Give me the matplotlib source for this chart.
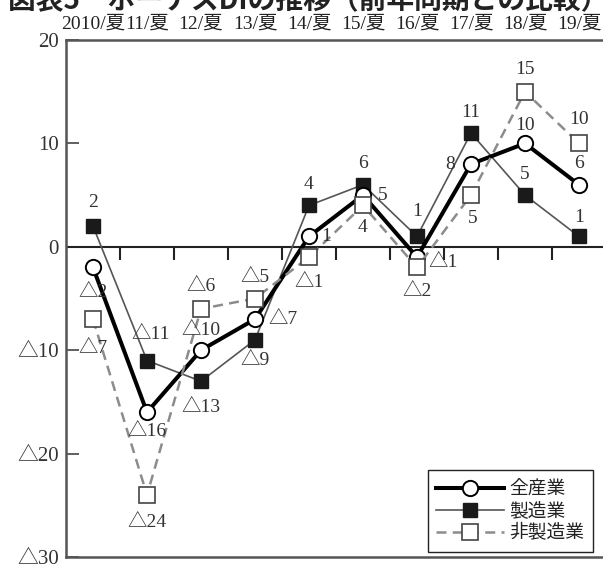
import matplotlib
matplotlib.use('Agg')
from matplotlib import pyplot as plt

# data (△ = minus)
periods = ['2010/夏', '11/夏', '12/夏', '13/夏', '14/夏', '15/夏', '16/夏', '17/夏', '18/夏', '19/夏']
all_ind = [-2, -16, -10, -7, 1, 5, -1, 8, 10, 6]
mfg = [2, -11, -13, -9, 4, 6, 1, 11, 5, 1]
non_mfg = [-7, -24, -6, -5, -1, 4, -2, 5, 15, 10]
y_ticks = [20, 10, 0, -10, -20, -30]

# label offsets in points (dx, dy) for each point
off_all = [(0, -18), (0, -14), (0, 14), (20, 0), (12, 0), (14, 0), (19, -4), (-15, 0), (0, 13), (0, 15)]
off_mfg = [(0, 17), (3, 19), (0, -19), (0, -15), (0, 15), (0, 15), (0, 18), (0, 15), (0, 15), (0, 14)]
off_non = [(0, -21), (0, -20), (0, 16), (0, 15), (0, -18), (0, -16), (0, -17), (1, -17), (0, 16), (0, 17)]

SERIF = ['Liberation Serif', 'Noto Sans CJK JP']


def fmt(v):
    return '△' + str(abs(v)) if v < 0 else str(v)


fig = plt.figure(figsize=(6.03, 5.64), dpi=100)
ax = fig.add_axes([66 / 603, 1 - 557 / 564, 540 / 603, 517 / 564])

x = list(range(len(periods)))

ax.plot(x, mfg, color='#555555', lw=1.2, marker='s', ms=9.5,
        mfc='#1a1a1a', mec='#1a1a1a', zorder=3, label='製造業')
ax.plot(x, all_ind, color='black', lw=2.9, marker='o', ms=11,
        mfc='white', mec='black', mew=1.4, zorder=4, label='全産業')
ax.plot(x, non_mfg, color='#8c8c8c', lw=1.8, ls=(0, (4, 2.5)), marker='s', ms=11.5,
        mfc='white', mec='#444444', mew=1.2, zorder=5, label='非製造業')

for vals, offs in [(all_ind, off_all), (mfg, off_mfg), (non_mfg, off_non)]:
    for i, v in enumerate(vals):
        ax.annotate(fmt(v), (i, v), xytext=offs[i], textcoords='offset points',
                    ha='center', va='center', fontsize=14, color='#333333',
                    family=SERIF, zorder=6)

ax.set_xlim(-0.5, 9.5)
ax.set_ylim(-30, 20)

# zero line with downward ticks between periods
ax.axhline(0, color='#222222', lw=1.5, zorder=2)
ax.vlines([i + 0.5 for i in range(9)], -1.25, 0, color='#222222', lw=1.5, zorder=2)

ax.set_yticks(y_ticks)
ax.set_yticklabels([fmt(v) for v in y_ticks], family=SERIF, fontsize=15, color='#333333')
ax.tick_params(axis='y', direction='in', length=9.5, width=1.2, color='#444444', pad=5)

ax.set_xticks(x)
ax.set_xticklabels(periods, family=SERIF, fontsize=14, color='#222222')
ax.xaxis.tick_top()
ax.tick_params(axis='x', length=0, pad=5)

for s in ['left', 'top', 'bottom']:
    ax.spines[s].set_color('#555555')
    ax.spines[s].set_linewidth(1.8)
ax.spines['right'].set_visible(False)

handles, labels = ax.get_legend_handles_labels()
order = [1, 0, 2]
leg = ax.legend([handles[i] for i in order], [labels[i] for i in order],
                loc='lower right', bbox_to_anchor=(593 / 603, 1 - 552 / 564),
                bbox_transform=fig.transFigure, prop={'family': 'Noto Sans CJK JP', 'size': 13.5},
                fancybox=False, edgecolor='#222222', framealpha=1, handlelength=3.6,
                handletextpad=0.3, labelspacing=0.05, borderpad=0.45, borderaxespad=0)
leg.get_frame().set_linewidth(1.0)
for t in leg.get_texts():
    t.set_color('#222222')

# title is cut off at the top edge in the reference
fig.text(8 / 603, 1 - 9 / 564, '図表5　ボーナスDIの推移（前年同期との比較）',
         family='Noto Sans CJK JP', fontweight='bold', fontsize=20,
         ha='left', va='baseline', color='#222222')

fig.savefig('out.png', dpi=100)
